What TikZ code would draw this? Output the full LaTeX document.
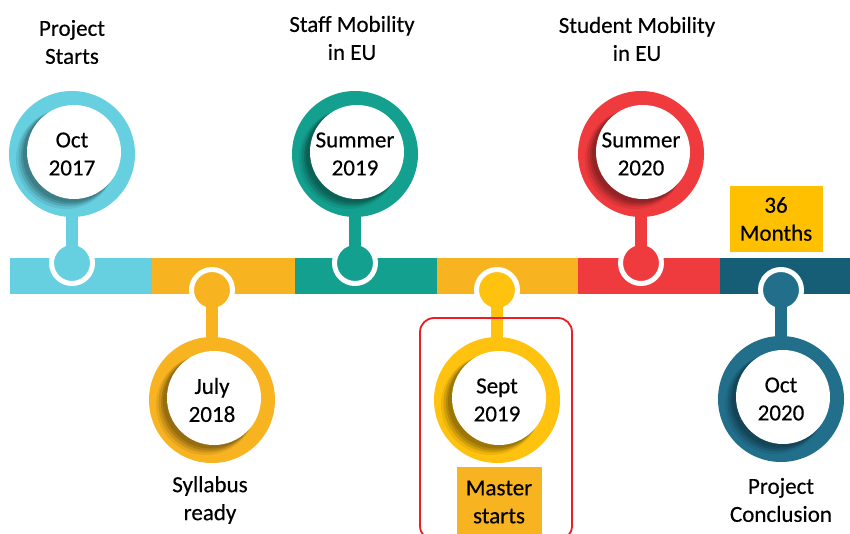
\documentclass[tikz,border=0pt]{standalone}
\usepackage{fontspec}
\setmainfont{Carlito}[FakeBold=0.35]
\usetikzlibrary{calc}
\definecolor{cCyan}{HTML}{66D0E0}
\definecolor{cOrange}{HTML}{F8B320}
\definecolor{cTeal}{HTML}{14A08F}
\definecolor{cGold}{HTML}{FFC20E}
\definecolor{cRed}{HTML}{EF3B3E}
\definecolor{cDark}{HTML}{155E75}
\definecolor{cDarkRing}{HTML}{226F8C}
\definecolor{cBox}{HTML}{FFC000}
\definecolor{cFrame}{HTML}{EE1C25}
\tikzset{
  lbl/.style={align=center, font=\fontsize{23}{28}\selectfont, inner sep=0pt, text=black},
  seg/.style={fill=#1, draw=none},
  knob/.style={circle, fill=#1, draw=white, line width=5pt, minimum size=41pt, inner sep=0pt},
  stem/.style={line width=12pt, draw=#1, shorten <=-6pt, shorten >=-5pt},
  ring/.style={circle, fill=#1, minimum size=126pt, inner sep=0pt},
  tagbox/.style={fill=#1, inner sep=0pt},
}
\newcommand\tlitem[6]{%
  \node[knob=#2] (k#1) at (#3,#4) {};
  \node[ring=#2] (r#1) at (#3,#5) {};
  \draw[stem=#2] (k#1) -- (r#1);
  \fill[#2!50!black, opacity=.15] ($(r#1)+(-6,5)$) circle[radius=50pt];
  \fill[#2!50!black, opacity=.25] ($(r#1)+(-4.5,3.5)$) circle[radius=49pt];
  \fill[#2!50!black, opacity=.35] ($(r#1)+(-3,2.5)$) circle[radius=48pt];
  \fill[#2!50!black, opacity=.45] ($(r#1)+(-1.5,1)$) circle[radius=47.5pt];
  \fill[white] ($(r#1)+(2,-2)$) circle[radius=47pt];
  \node[lbl] (t#1) at (r#1) {#6};
}
\begin{document}
\begin{tikzpicture}[x=1pt,y=-1pt]
\useasboundingbox[fill=white] (0,0) rectangle (850,534);
% bar
\path[seg=cCyan]   (10,258)  rectangle (152,294);
\path[seg=cOrange] (152,258) rectangle (295,294);
\path[seg=cTeal]   (295,258) rectangle (437,294);
\path[seg=cOrange] (437,258) rectangle (578,294);
\path[seg=cRed]    (578,258) rectangle (720,294);
\path[seg=cDark]   (720,258) rectangle (850,294);
% milestones
\tlitem{1}{cCyan}{72}{263}{154}{Oct\\2017}
\tlitem{2}{cOrange}{212}{290}{400}{July\\2018}
\tlitem{3}{cTeal}{355}{263}{154}{Summer\\2019}
\tlitem{4}{cGold}{497}{290}{400}{Sept\\2019}
\tlitem{5}{cRed}{641}{263}{154}{Summer\\2020}
\tlitem{6}{cDarkRing}{781}{290}{399}{Oct\\2020}
% labels
\node[lbl] (l1) at (72,42) {Project\\Starts};
\node[lbl] (l3) at (352,38) {Staff Mobility\\in EU};
\node[lbl] (l5) at (637,39) {Student Mobility\\in EU};
\node[lbl] (l2) at (210,500) {Syllabus\\ready};
\node[lbl] (l6) at (781,500) {Project\\Conclusion};
% boxes
\node[tagbox=cBox, minimum width=93pt, minimum height=66pt] (months) at (776,219) {};
\node[lbl] (monthsT) at (months) {36\\Months};
\node[draw=cFrame, line width=1.8pt, rounded corners=14pt, minimum width=152pt, minimum height=222pt] (frame) at (496,429) {};
\node[tagbox=cOrange, minimum width=85pt, minimum height=70pt] (master) at (499,502) {};
\node[lbl] (masterT) at (master) {Master\\starts};
\end{tikzpicture}
\end{document}
